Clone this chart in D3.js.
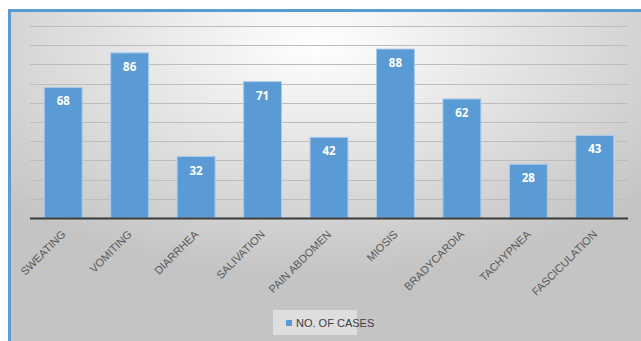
<!DOCTYPE html>
<html>
<head>
<meta charset="utf-8">
<script src="https://cdn.jsdelivr.net/npm/d3@7"></script>
<style>
  body { margin: 0; background: #fff; }
</style>
</head>
<body>
<script>
// données du graphe
var categories = ["SWEATING", "VOMITING", "DIARRHEA", "SALIVATION", "PAIN ABDOMEN",
                  "MIOSIS", "BRADYCARDIA", "TACHYPNEA", "FASCICULATION"];
var cases = [68, 86, 32, 71, 42, 88, 62, 28, 43];
var yTicks = [0, 10, 20, 30, 40, 50, 60, 70, 80, 90, 100];
var seriesName = "NO. OF CASES";

var larg = 641, haut = 341;
var gauche = 30, droite = 628, haute = 26, base = 218;

var svg = d3.select("body").append("svg")
  .attr("width", larg)
  .attr("height", haut);

// fond en dégradé
var grad = svg.append("defs").append("radialGradient")
  .attr("id", "bg")
  .attr("cx", "48%").attr("cy", "10%").attr("r", "68%");
grad.append("stop").attr("offset", "0%").attr("stop-color", "#ffffff");
grad.append("stop").attr("offset", "100%").attr("stop-color", "#c4c4c4");

svg.append("rect")
  .attr("x", 9.5).attr("y", 10.5)
  .attr("width", 640).attr("height", 340)
  .attr("fill", "url(#bg)")
  .attr("stroke", "#5b9bd5")
  .attr("stroke-width", 3);

var x = d3.scaleBand().domain(categories).range([gauche, droite]).paddingInner(0.43).paddingOuter(0.215);
var y = d3.scaleLinear().domain([0, 100]).range([base, haute]);

// grille
svg.selectAll("line.grid")
  .data(yTicks.slice(1))
  .enter()
  .append("line")
  .attr("class", "grid")
  .attr("x1", gauche).attr("x2", droite)
  .attr("y1", function(d) { return Math.round(y(d)) + 0.5; })
  .attr("y2", function(d) { return Math.round(y(d)) + 0.5; })
  .attr("stroke", "#bdbdbd")
  .attr("stroke-width", 1);

// barres
svg.selectAll("rect.bar")
  .data(cases)
  .enter()
  .append("rect")
  .attr("class", "bar")
  .attr("x", function(d, i) { return x(categories[i]); })
  .attr("y", function(d) { return y(d); })
  .attr("width", x.bandwidth())
  .attr("height", function(d) { return base - y(d); })
  .attr("fill", "#5b9bd5")
  .attr("stroke", "#a8c9ea")
  .attr("stroke-width", 1);

// axe des x
svg.append("line")
  .attr("x1", gauche).attr("x2", droite)
  .attr("y1", base + 0.5).attr("y2", base + 0.5)
  .attr("stroke", "#3a3a3a")
  .attr("stroke-width", 2);

// valeurs
svg.selectAll("text.val")
  .data(cases)
  .enter()
  .append("text")
  .attr("class", "val")
  .text(function(d) { return d; })
  .attr("x", function(d, i) { return x(categories[i]) + x.bandwidth() / 2; })
  .attr("y", function(d) { return y(d) + 18; })
  .attr("text-anchor", "middle")
  .attr("font-family", "'Open Sans', sans-serif")
  .attr("font-weight", "bold")
  .attr("font-size", "11.5px")
  .attr("fill", "#ffffff");

// libellés
svg.selectAll("text.cat")
  .data(categories)
  .enter()
  .append("text")
  .attr("class", "cat")
  .text(function(d) { return d; })
  .attr("text-anchor", "end")
  .attr("transform", function(d) {
    return "translate(" + (x(d) + x.bandwidth() / 2 + 3) + "," + (base + 17) + ") rotate(-45)";
  })
  .attr("font-family", "'Liberation Sans Narrow', 'Liberation Sans', sans-serif")
  .attr("font-size", "11px")
  .attr("fill", "#595959");

// légende
var leg = svg.append("g");
leg.append("rect")
  .attr("x", 273).attr("y", 310).attr("width", 84).attr("height", 25)
  .attr("fill", "#f0f0f0").attr("opacity", 0.6);
leg.append("rect")
  .attr("x", 286).attr("y", 320).attr("width", 6).attr("height", 6)
  .attr("fill", "#5b9bd5");
leg.append("text")
  .text(seriesName)
  .attr("x", 296).attr("y", 327)
  .attr("font-family", "'Liberation Sans Narrow', 'Liberation Sans', sans-serif")
  .attr("font-size", "11px")
  .attr("fill", "#404040");
</script>
</body>
</html>
